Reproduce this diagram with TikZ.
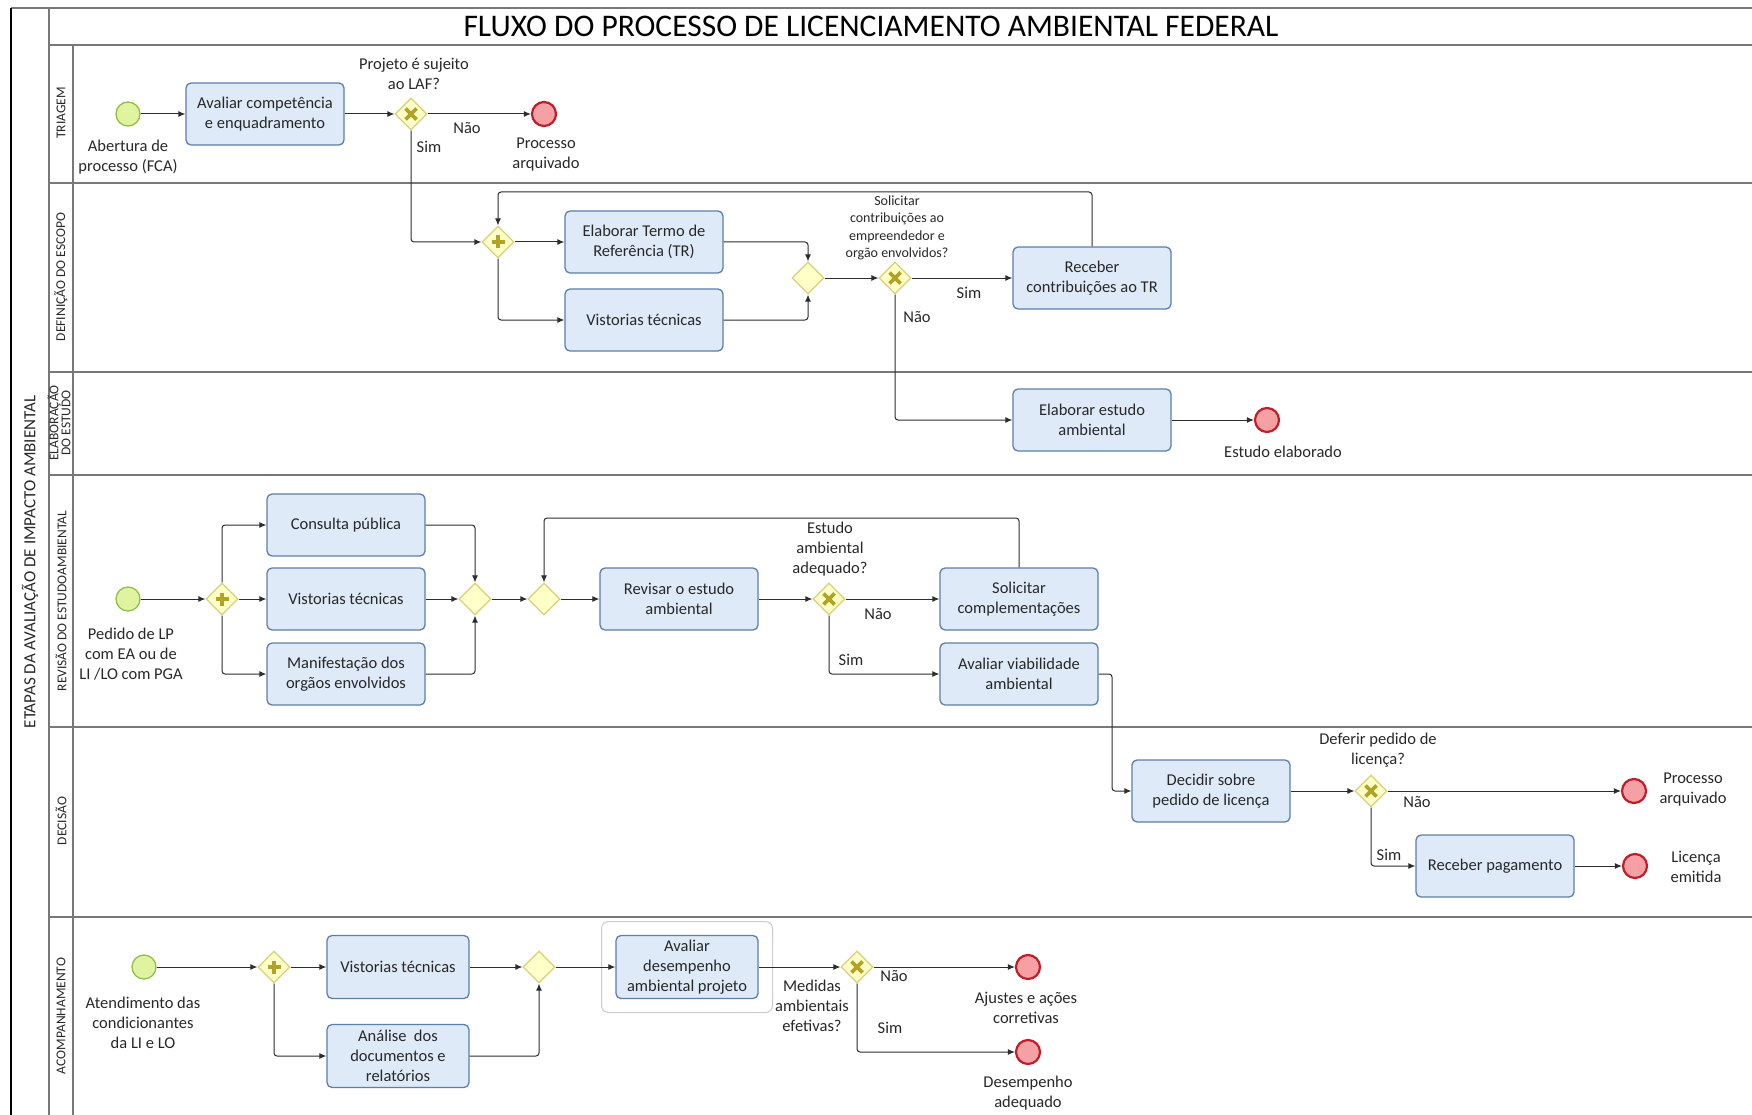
\documentclass[tikz,border=0pt]{standalone}
\usepackage{fontspec}
\setmainfont{Carlito}
\usetikzlibrary{shapes.geometric,arrows.meta}

\definecolor{taskfill}{RGB}{222,234,248}
\definecolor{taskline}{RGB}{92,128,168}
\definecolor{gatefill}{RGB}{255,255,200}
\definecolor{gateline}{RGB}{220,206,120}
\definecolor{gatemark}{RGB}{176,164,40}
\definecolor{startfill}{RGB}{222,244,160}
\definecolor{startline}{RGB}{150,190,70}
\definecolor{endfill}{RGB}{244,160,164}
\definecolor{endline}{RGB}{190,30,40}
\definecolor{laneline}{RGB}{120,120,120}
\definecolor{flowline}{RGB}{45,45,45}
\definecolor{txt}{RGB}{40,40,40}

\newcommand{\fbody}{\fontsize{16.5}{20}\selectfont}
\newcommand{\fsmall}{\fontsize{14}{17.5}\selectfont}
\newcommand{\ftitle}{\fontsize{31.5}{34}\selectfont}
\newcommand{\flane}{\fontsize{13.5}{12}\selectfont}
\newcommand{\fpool}{\fontsize{17}{18}\selectfont}

\begin{document}
\begin{tikzpicture}[x=1pt,y=-1pt,
  lanefr/.style={draw=laneline,line width=2pt},
  task/.style={draw=taskline,fill=taskfill,line width=1.3pt,rounded corners=5pt,
    minimum width=158pt,minimum height=62pt,align=center,font=\fbody,text=txt,inner sep=2pt},
  tasknarrow/.style={task,minimum width=142pt,minimum height=63pt},
  gate/.style={diamond,draw=gateline,fill=gatefill,line width=1.2pt,minimum size=32pt,inner sep=0pt},
  xgate/.style={gate,path picture={
    \draw[gatemark,line width=3.8pt] ([shift={(-5.5pt,-5.5pt)}]path picture bounding box.center) -- ([shift={(5.5pt,5.5pt)}]path picture bounding box.center);
    \draw[gatemark,line width=3.8pt] ([shift={(-5.5pt,5.5pt)}]path picture bounding box.center) -- ([shift={(5.5pt,-5.5pt)}]path picture bounding box.center);}},
  pgate/.style={gate,path picture={
    \draw[gatemark,line width=4.2pt] ([xshift=-6.5pt]path picture bounding box.center) -- ([xshift=6.5pt]path picture bounding box.center);
    \draw[gatemark,line width=4.2pt] ([yshift=-6.5pt]path picture bounding box.center) -- ([yshift=6.5pt]path picture bounding box.center);}},
  startev/.style={circle,draw=startline,fill=startfill,line width=1.3pt,minimum size=24pt,inner sep=0pt},
  endev/.style={circle,draw=endline,fill=endfill,line width=2.2pt,minimum size=24pt,inner sep=0pt},
  flow/.style={draw=flowline,line width=1pt,rounded corners=3pt,-{Latex[length=7pt,width=6pt]}},
  lbl/.style={font=\fbody,text=txt,align=center,inner sep=0pt},
  slbl/.style={font=\fsmall,text=txt,align=center,inner sep=0pt},
  lanelbl/.style={font=\flane,text=txt,align=center,rotate=90,inner sep=0pt}]
\useasboundingbox (0,0) rectangle (1752,1115);
\fill[white] (0,0) rectangle (1752,1115);
%%%%%%%%%%%%%%%%%%%%%%%%%%%%%%%%
%% pool and lanes
%%%%%%%%%%%%%%%%%%%%%%%%%%%%%%%%
\draw[lanefr] (11,8) -- (1752,8);
\draw[lanefr] (49,45) -- (1752,45);
\foreach \yy in {183,372,475,727,917}
  \draw[lanefr] (49,\yy) -- (1752,\yy);
\draw[black,line width=1.2pt] (11,8) -- (11,1115);
\draw[lanefr] (49,8) -- (49,1115);
\draw[lanefr] (73,45) -- (73,1115);

\node[font=\ftitle,text=black] (title) at (871,26) {FLUXO DO PROCESSO DE LICENCIAMENTO AMBIENTAL FEDERAL};
\node[font=\fpool,text=txt,rotate=90] (pool) at (30,562) {ETAPAS DA AVALIAÇÃO DE IMPACTO AMBIENTAL};
\node[lanelbl] (lnTri) at (61,113) {TRIAGEM};
\node[lanelbl] (lnDef) at (61,277) {DEFINIÇÃO DO ESCOPO};
\node[lanelbl] (lnEla) at (59,423) {ELABORAÇÃO\\DO ESTUDO};
\node[lanelbl] (lnRev) at (61,601) {REVISÃO DO ESTUDOAMBIENTAL};
\node[lanelbl] (lnDec) at (61,821) {DECISÃO};
\node[lanelbl] (lnAco) at (61,1016) {ACOMPANHAMENTO};
%
%%%%%%%%%%%%%%%%%%%%%%%%%%%%%%%%
%% TRIAGEM
%%%%%%%%%%%%%%%%%%%%%%%%%%%%%%%%
\node[startev] (abertura) at (128,114) {};
\node[lbl] (lAbertura) at (128,157) {Abertura de\\processo (FCA)};
\node[task] (avaliar) at (265,114) {Avaliar competência\\e enquadramento};
\node[xgate] (gLAF) at (411,114) {};
\node[lbl] (lLAF) at (414,74) {Projeto é sujeito\\ao LAF?};
\node[endev] (arqA) at (544,114) {};
\node[lbl] (lArqA) at (546,155) {Processo\\arquivado};
\node[lbl] (nLAF) at (467,128) {Não};
\node[lbl] (sLAF) at (429,147) {Sim};

\draw[flow] (abertura) -- (avaliar);
\draw[flow] (avaliar) -- (gLAF);
\draw[flow] (gLAF) -- (arqA);
%
%%%%%%%%%%%%%%%%%%%%%%%%%%%%%%%%
%% DEFINICAO DO ESCOPO
%%%%%%%%%%%%%%%%%%%%%%%%%%%%%%%%
\node[pgate] (parA) at (498,242) {};
\node[task] (termo) at (644,242) {Elaborar Termo de\\Referência (TR)};
\node[task] (vistA) at (644,320) {Vistorias técnicas};
\node[gate] (junA) at (808,278) {};
\node[xgate] (gContr) at (895,278) {};
\node[slbl] (lContr) at (897,228) {Solicitar\\contribuições ao\\empreendedor e\\orgão envolvidos?};
\node[task] (receber) at (1092,278) {Receber\\contribuições ao TR};
\node[lbl] (sContr) at (969,293) {Sim};
\node[lbl] (nContr) at (917,317) {Não};
\coordinate (loopA) at (0,192);

\draw[flow] (gLAF.south) |- (parA);
\draw[flow] (parA) -- (termo);
\draw[flow] (parA.south) |- (vistA);
\draw[flow] (termo) -| (junA);
\draw[flow] (vistA) -| (junA);
\draw[flow] (junA) -- (gContr);
\draw[flow] (gContr) -- (receber);
\draw[flow] (receber.north) |- (loopA -| parA) -- (parA);
%
%%%%%%%%%%%%%%%%%%%%%%%%%%%%%%%%
%% ELABORACAO DO ESTUDO
%%%%%%%%%%%%%%%%%%%%%%%%%%%%%%%%
\node[task] (elaborar) at (1092,420) {Elaborar estudo\\ambiental};
\node[endev] (estudo) at (1267,420) {};
\node[lbl] (lEstudo) at (1283,452) {Estudo elaborado};

\draw[flow] (gContr.south) |- (elaborar);
\draw[flow] (elaborar) -- (estudo);
%
%%%%%%%%%%%%%%%%%%%%%%%%%%%%%%%%
%% REVISAO DO ESTUDO AMBIENTAL
%%%%%%%%%%%%%%%%%%%%%%%%%%%%%%%%
\node[startev] (pedido) at (128,599) {};
\node[lbl] (lPedido) at (131,654) {Pedido de LP\\com EA ou de\\LI /LO com PGA};
\node[pgate] (parB) at (222,599) {};
\node[task] (consulta) at (346,525) {Consulta pública};
\node[task] (vistB) at (346,599) {Vistorias técnicas};
\node[task] (manif) at (346,674) {Manifestação dos\\orgãos envolvidos};
\node[gate] (junB) at (475,599) {};
\node[gate] (junC) at (544,599) {};
\node[task] (revisar) at (679,599) {Revisar o estudo\\ambiental};
\node[xgate] (gAdeq) at (829,599) {};
\node[lbl] (lAdeq) at (830,549) {Estudo\\ambiental\\adequado?};
\node[task] (solicitar) at (1019,599) {Solicitar\\complementações};
\node[task] (viab) at (1019,674) {Avaliar viabilidade\\ambiental};
\node[lbl] (nAdeq) at (878,614) {Não};
\node[lbl] (sAdeq) at (851,660) {Sim};
\coordinate (loopB) at (0,518);
\coordinate (bendA) at (1112,740);

\draw[flow] (pedido) -- (parB);
\draw[flow] (parB.north) |- (consulta);
\draw[flow] (parB) -- (vistB);
\draw[flow] (parB.south) |- (manif);
\draw[flow] (consulta) -| (junB);
\draw[flow] (vistB) -- (junB);
\draw[flow] (manif) -| (junB);
\draw[flow] (junB) -- (junC);
\draw[flow] (junC) -- (revisar);
\draw[flow] (revisar) -- (gAdeq);
\draw[flow] (gAdeq) -- (solicitar);
\draw[flow] (gAdeq.south) |- (viab);
\draw[flow] (solicitar.north) |- (loopB -| junC) -- (junC);
%
%%%%%%%%%%%%%%%%%%%%%%%%%%%%%%%%
%% DECISAO
%%%%%%%%%%%%%%%%%%%%%%%%%%%%%%%%
\node[task] (decidir) at (1211,791) {Decidir sobre\\pedido de licença};
\node[xgate] (gDef) at (1371,791) {};
\node[lbl] (lDef) at (1378,750) {Deferir pedido de\\licença?};
\node[endev] (arqB) at (1634,791) {};
\node[lbl] (lArqB) at (1693,790) {Processo\\arquivado};
\node[task] (pagamento) at (1495,866) {Receber pagamento};
\node[endev] (licenca) at (1635,866) {};
\node[lbl] (lLicenca) at (1696,867) {Licença\\emitida};
\node[lbl] (nDef) at (1417,802) {Não};
\node[lbl] (sDef) at (1389,855) {Sim};

\draw[flow] (viab.east) -| (bendA) |- (decidir);
\draw[flow] (decidir) -- (gDef);
\draw[flow] (gDef) -- (arqB);
\draw[flow] (gDef.south) |- (pagamento);
\draw[flow] (pagamento) -- (licenca);
%
%%%%%%%%%%%%%%%%%%%%%%%%%%%%%%%%
%% ACOMPANHAMENTO
%%%%%%%%%%%%%%%%%%%%%%%%%%%%%%%%
\node[startev] (atend) at (144,967) {};
\node[lbl] (lAtend) at (143,1023) {Atendimento das\\condicionantes\\da LI e LO};
\node[pgate] (parC) at (274,967) {};
\node[tasknarrow] (vistC) at (398,967) {Vistorias técnicas};
\node[tasknarrow] (analise) at (398,1056) {Análise\ \ dos\\documentos e\\relatórios};
\node[gate] (junD) at (539,967) {};
\node[draw=black!20,line width=1pt,rounded corners=7pt,minimum width=171pt,minimum height=91pt] (grupo) at (687,967) {};
\node[tasknarrow] (desemp) at (687,967) {Avaliar\\desempenho\\ambiental projeto};
\node[xgate] (gMed) at (857,967) {};
\node[lbl] (lMed) at (812,1006) {Medidas\\ambientais\\efetivas?};
\node[endev] (ajustes) at (1028,967) {};
\node[lbl] (lAjustes) at (1026,1008) {Ajustes e ações\\corretivas};
\node[endev] (adequado) at (1028,1052) {};
\node[lbl] (lAdequado) at (1028,1093) {Desempenho\\adequado};
\node[lbl] (nMed) at (894,976) {Não};
\node[lbl] (sMed) at (890,1028) {Sim};

\draw[flow] (atend) -- (parC);
\draw[flow] (parC) -- (vistC);
\draw[flow] (parC.south) |- (analise);
\draw[flow] (vistC) -- (junD);
\draw[flow] (analise) -| (junD);
\draw[flow] (junD) -- (desemp);
\draw[flow] (desemp) -- (gMed);
\draw[flow] (gMed) -- (ajustes);
\draw[flow] (gMed.south) |- (adequado);
\end{tikzpicture}
\end{document}
